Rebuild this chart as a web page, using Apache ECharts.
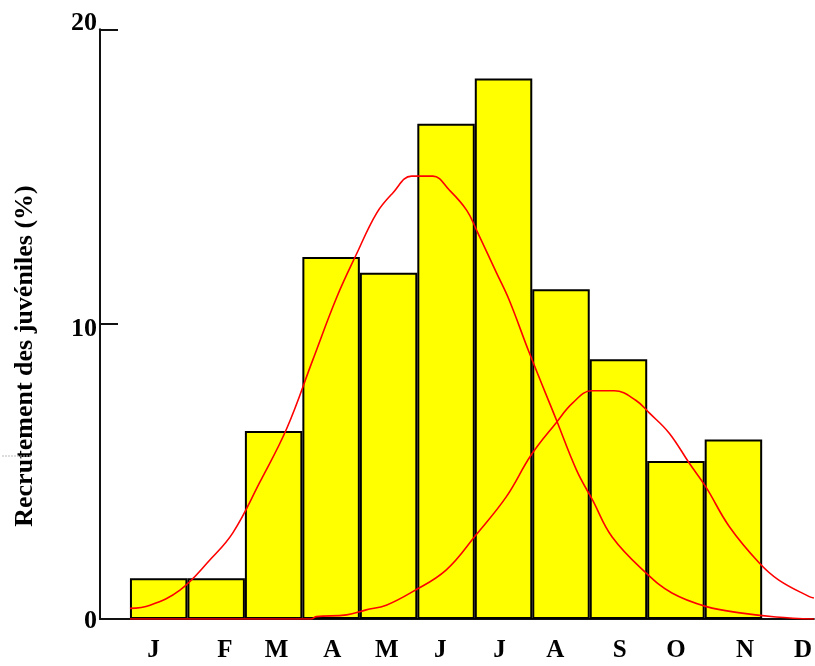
<!DOCTYPE html>
<html>
<head>
<meta charset="utf-8">
<script src="https://cdn.jsdelivr.net/npm/echarts@6/dist/echarts.min.js"></script>
<style>html,body{margin:0;padding:0;background:#fff;}#c{width:815px;height:666px;}</style>
</head>
<body>
<div id="c"></div>
<script>
// ---- data ----
const months = ['J','F','M','A','M','J','J','A','S','O','N','D'];
const monthTickPos = [0.41, 1.65, 2.55, 3.52, 4.47, 5.40, 6.43, 7.40, 8.52, 9.50, 10.70, 11.71];
const barCenters = [0.5, 1.5, 2.5, 3.5, 4.5, 5.5, 6.5, 7.5, 8.5, 9.5, 10.5];
const barValues = [1.38, 1.38, 6.38, 12.28, 11.74, 16.80, 18.33, 11.18, 8.81, 5.36, 6.09];
const yTicks = [0, 10, 20];

const curve1X = [0, 0.35, 0.87, 1.39, 1.79, 2.26, 2.73, 3.18, 3.60, 3.94, 4.29, 4.57, 4.90, 5.27, 5.56, 5.86, 6.03, 6.38, 6.60, 6.95, 7.42, 7.77, 8.05, 8.39, 8.98, 9.43, 10.03, 10.65, 11.24, 11.90];
const curve1Y = [0.36, 0.47, 0.98, 2.00, 2.92, 4.64, 6.47, 8.78, 10.92, 12.37, 13.76, 14.44, 15.02, 15.02, 14.54, 13.86, 13.19, 11.73, 10.81, 9.02, 6.75, 5.05, 4.03, 2.78, 1.56, 0.88, 0.42, 0.20, 0.07, 0.00];

const curve2X = [0, 3.15, 3.24, 3.77, 4.11, 4.46, 4.92, 5.50, 6.02, 6.55, 6.98, 7.41, 7.70, 8.03, 8.43, 8.80, 9.04, 9.38, 9.73, 10.02, 10.43, 10.95, 11.29, 11.82, 11.90];
const curve2Y = [0, 0, 0.08, 0.14, 0.31, 0.47, 0.93, 1.66, 2.85, 4.15, 5.56, 6.64, 7.32, 7.74, 7.74, 7.42, 6.98, 6.31, 5.29, 4.48, 3.13, 1.90, 1.32, 0.76, 0.71];

const yTitle = 'Recrutement des juvéniles (%)';

// ---- chart ----
const zip = (xs, ys) => xs.map((x, i) => [x, ys[i]]);
const font = '"Liberation Serif", "Times New Roman", serif';
const yLabelRich = {
  up: {fontFamily: font, fontWeight: 'bold', fontSize: 26, color: '#000', padding: [0, 0, 13, 0]},
  down: {fontFamily: font, fontWeight: 'bold', fontSize: 26, color: '#000', padding: [10, 0, 0, 0]},
  mid: {fontFamily: font, fontWeight: 'bold', fontSize: 26, color: '#000', padding: [4, 0, 0, 0]}
};
const chart = echarts.init(document.getElementById('c'), null, {renderer: 'canvas'});
chart.setOption({
  animation: false,
  backgroundColor: '#ffffff',
  grid: {left: 100, right: 0, top: 29.3, bottom: 47, containLabel: false},
  xAxis: {
    type: 'value', min: -0.521, max: 11.9,
    splitLine: {show: false},
    axisLine: {show: true, onZero: false, lineStyle: {color: '#111', width: 2}},
    axisTick: {show: false},
    axisLabel: {
      customValues: monthTickPos,
      formatter: (v) => { const i = monthTickPos.findIndex(p => Math.abs(p - v) < 1e-6); return i >= 0 ? months[i] : ''; },
      fontFamily: font, fontWeight: 'bold', fontSize: 25, color: '#000', margin: 19
    }
  },
  yAxis: {
    type: 'value', min: 0, max: 20, interval: 10,
    splitLine: {show: false},
    axisLine: {show: true, onZero: false, lineStyle: {color: '#111', width: 2}},
    axisTick: {show: true, inside: true, length: 18, lineStyle: {color: '#111', width: 2}},
    axisLabel: {
      customValues: yTicks,
      formatter: (v) => v === 20 ? '{up|' + v + '}' : (v === 10 ? '{down|' + v + '}' : '{mid|' + v + '}'),
      rich: yLabelRich,
      fontFamily: font, fontWeight: 'bold', fontSize: 26, color: '#000', margin: 3
    }
  },
  graphic: [
    {type: 'text', x: 25, y: 356, rotation: Math.PI / 2,
     style: {text: yTitle, font: 'bold 26px ' + font, fill: '#000', align: 'center', verticalAlign: 'middle'}},
    {type: 'line', shape: {x1: 2, y1: 456, x2: 32, y2: 456},
     style: {stroke: '#bbbbbb', lineWidth: 1, lineDash: [2, 1]}}
  ],
  series: [
    {type: 'bar', data: zip(barCenters, barValues), barCategoryGap: '0%', barGap: '0%',
     itemStyle: {color: '#ffff00', borderColor: '#000', borderWidth: 2}, z: 2},
    {type: 'line', data: zip(curve1X, curve1Y), smooth: 0.4, showSymbol: false,
     lineStyle: {color: '#ff0000', width: 1.6}, z: 4},
    {type: 'line', data: zip(curve2X, curve2Y), smooth: 0.4, showSymbol: false,
     lineStyle: {color: '#ff0000', width: 1.6}, z: 4}
  ]
});
</script>
</body>
</html>
